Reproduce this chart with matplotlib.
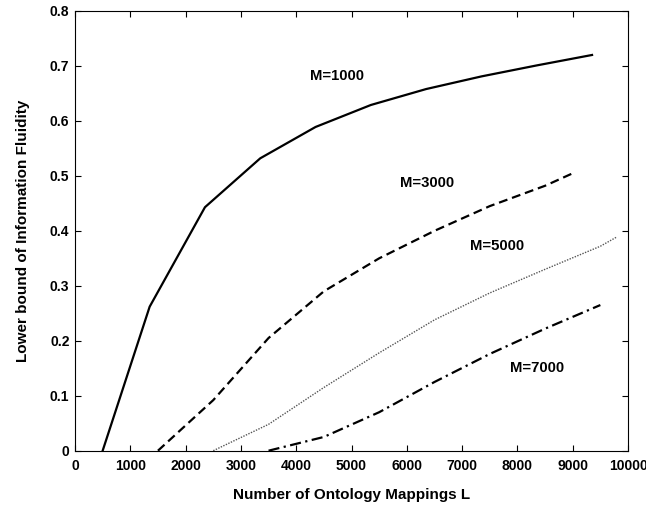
import matplotlib
matplotlib.use("Agg")
import matplotlib.pyplot as plt

plt.rcParams['font.family'] = ['Liberation Sans', 'DejaVu Sans']
plt.rcParams['font.weight'] = 'bold'

L_1000 = [500, 1350, 2350, 3350, 4350, 5350, 6350, 7350, 8350, 9350]
F_1000 = [0.0, 0.262, 0.443, 0.532, 0.589, 0.629, 0.658, 0.681, 0.701, 0.720]

L_3000 = [1500, 2500, 3500, 4500, 5500, 6500, 7500, 8500, 9050]
F_3000 = [0.0, 0.092, 0.205, 0.290, 0.350, 0.400, 0.445, 0.482, 0.507]

L_5000 = [2500, 3500, 4500, 5500, 6500, 7500, 8500, 9500, 9800]
F_5000 = [0.0, 0.048, 0.115, 0.178, 0.238, 0.287, 0.330, 0.372, 0.389]

L_7000 = [3500, 4500, 5500, 6500, 7500, 8500, 9500]
F_7000 = [0.0, 0.025, 0.070, 0.125, 0.176, 0.222, 0.265]

labels = ["M=1000", "M=3000", "M=5000", "M=7000"]
label_x = [4730, 6365, 7640, 8364]
label_y = [0.682, 0.487, 0.372, 0.150]

xticks = [0, 1000, 2000, 3000, 4000, 5000, 6000, 7000, 8000, 9000, 10000]
yticks = [0, 0.1, 0.2, 0.3, 0.4, 0.5, 0.6, 0.7, 0.8]
ytick_labels = ["0", "0.1", "0.2", "0.3", "0.4", "0.5", "0.6", "0.7", "0.8"]

fig = plt.figure(figsize=(6.46, 5.08), dpi=100)
ax = fig.add_axes([75/646, 1 - 450.7/508, (628-75)/646, (450.7-11)/508])

ax.plot(L_1000, F_1000, color='black', lw=1.6, linestyle='-')
ax.plot(L_3000, F_3000, color='black', lw=1.6, linestyle=(0, (4, 2.2)))
ax.plot(L_5000, F_5000, color='#555555', lw=1.0, linestyle=(0, (1, 1)))
ax.plot(L_7000, F_7000, color='black', lw=1.6, linestyle=(0, (5, 2, 1, 2)))

for t, x, y in zip(labels, label_x, label_y):
    ax.text(x, y, t, ha='center', va='center', fontsize=10.7, fontweight='bold')

ax.set_xlim(0, 10000)
ax.set_ylim(0, 0.8)
ax.set_xticks(xticks)
ax.set_xticklabels([str(v) for v in xticks])
ax.set_yticks(yticks)
ax.set_yticklabels(ytick_labels)
ax.tick_params(direction='in', top=True, right=True, labelsize=10, length=4, width=0.8)
ax.tick_params(axis='x', pad=6)
ax.tick_params(axis='y', pad=4)
for lab in ax.get_xticklabels() + ax.get_yticklabels():
    lab.set_fontweight('bold')
for s in ax.spines.values():
    s.set_linewidth(0.8)

ax.set_xlabel("Number of Ontology Mappings L", fontsize=11, fontweight='bold', labelpad=11)
ax.set_ylabel("Lower bound of Information Fluidity", fontsize=11, fontweight='bold', labelpad=14)

fig.savefig("out.png", dpi=100)
